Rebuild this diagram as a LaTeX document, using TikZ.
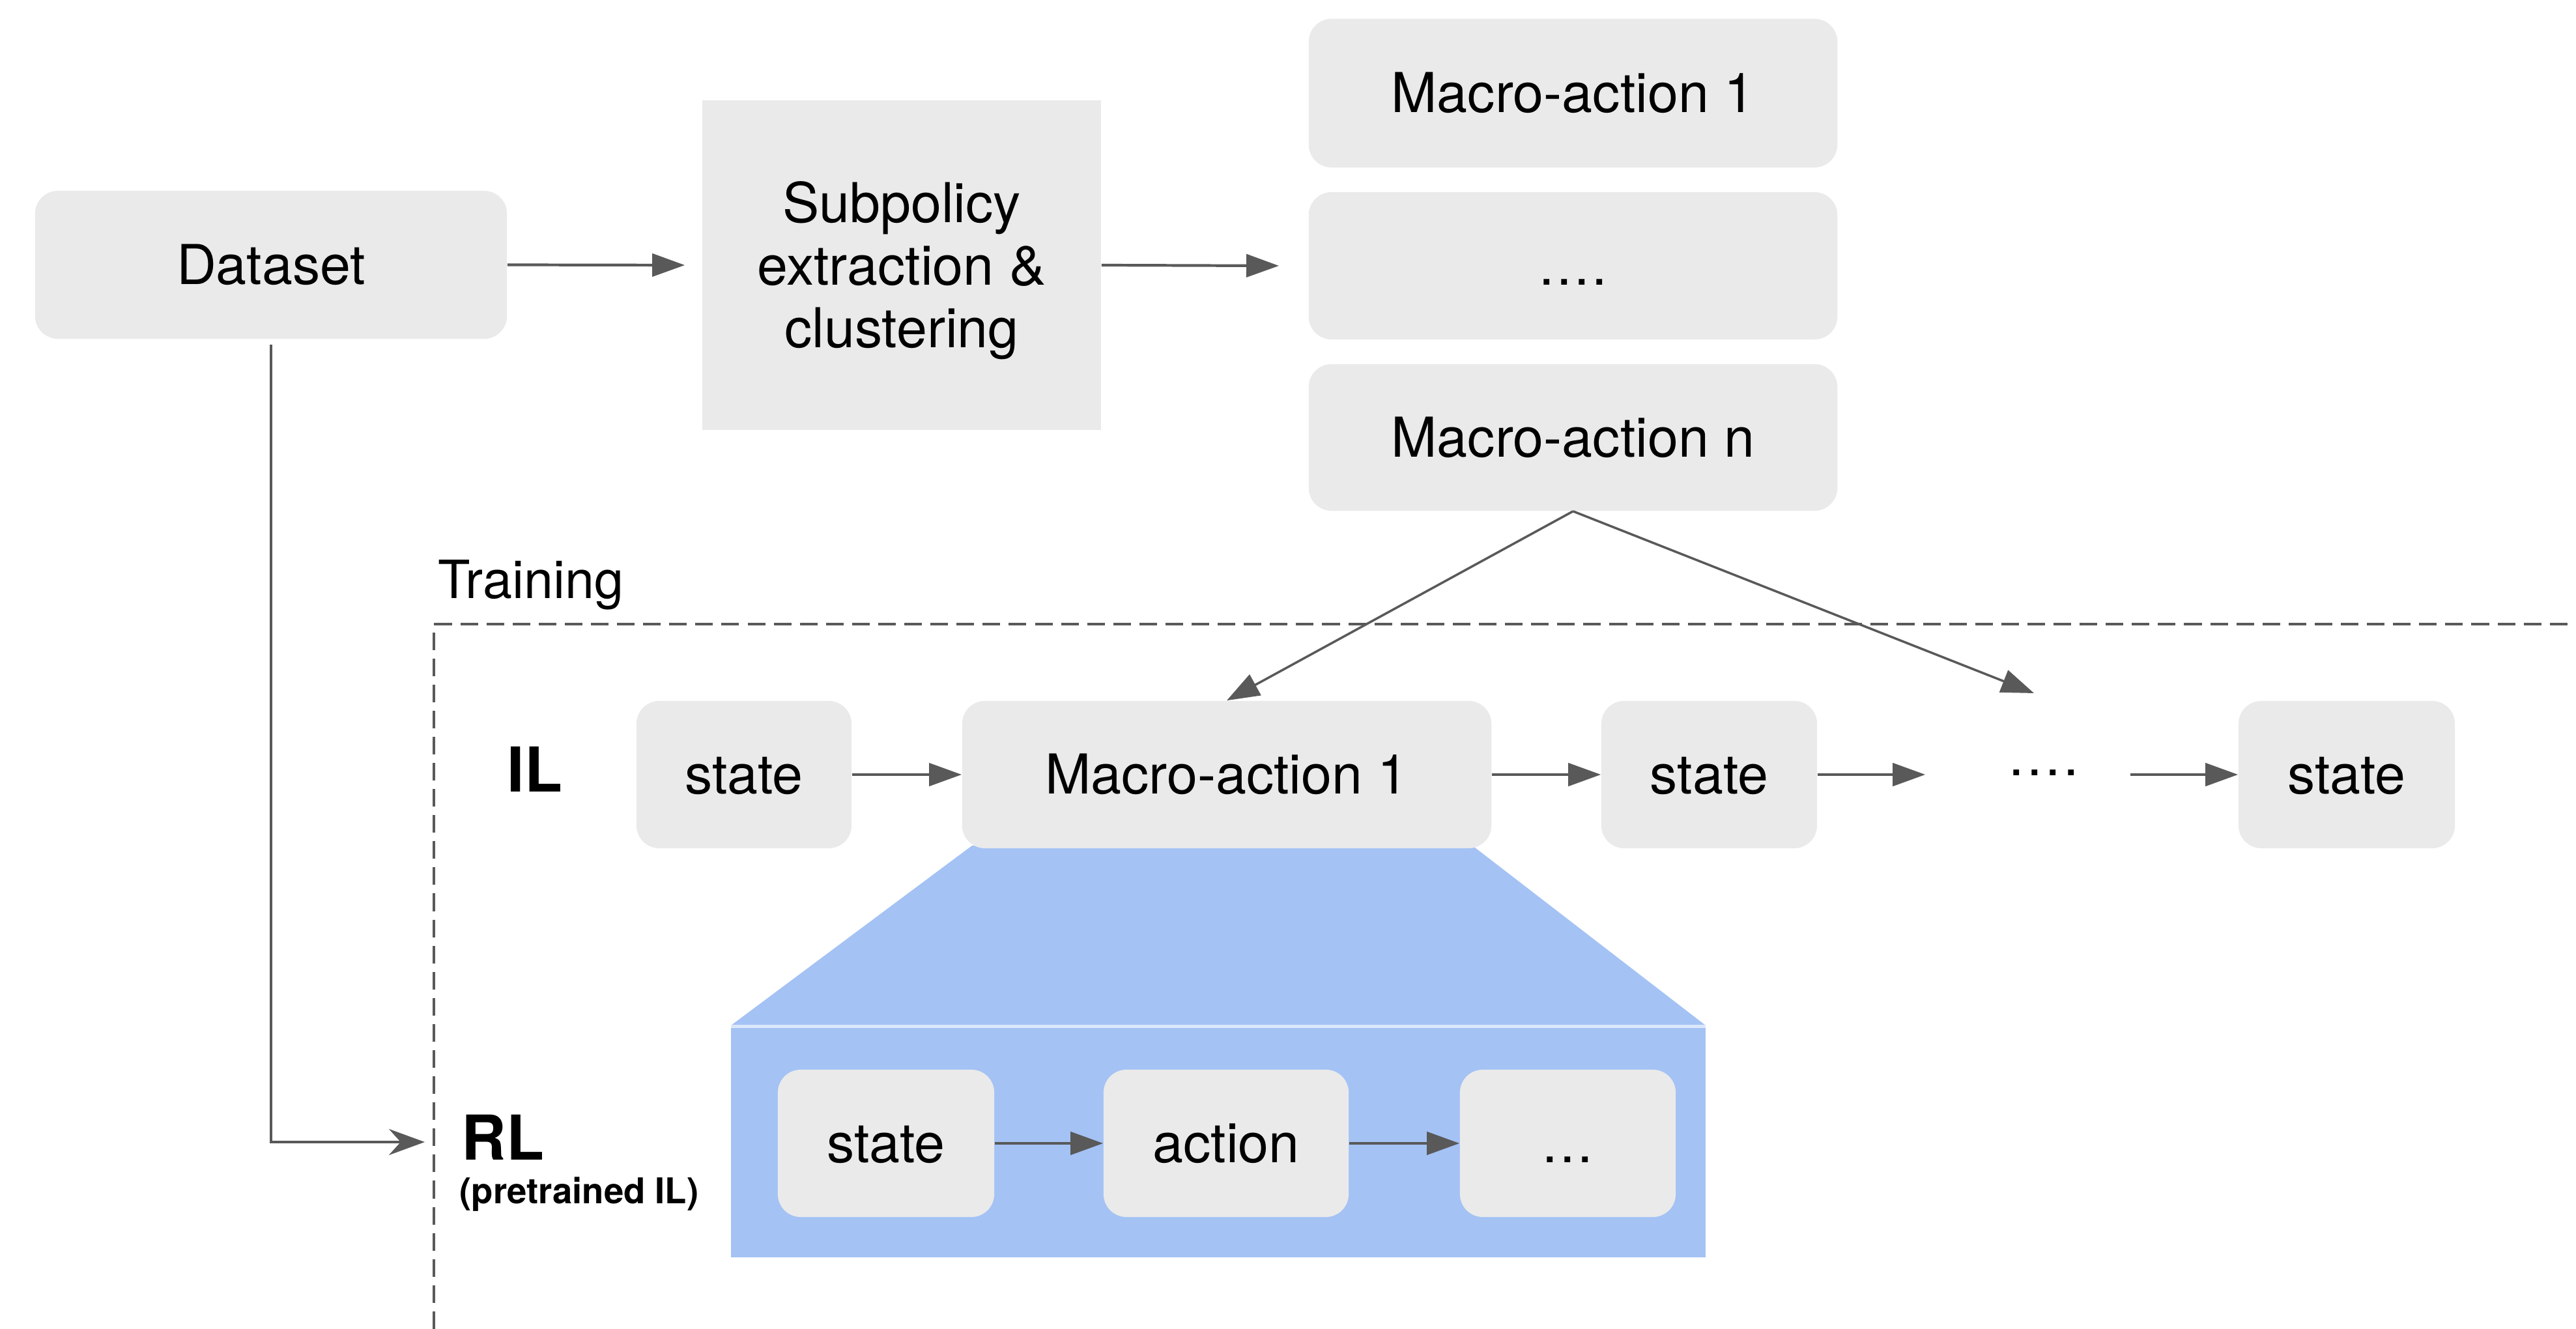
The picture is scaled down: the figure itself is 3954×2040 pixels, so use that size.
\documentclass[tikz,border=0pt]{standalone}
\usepackage{fontspec}
\setmainfont{TeX Gyre Heros}
\usetikzlibrary{arrows.meta}
\definecolor{boxgray}{HTML}{EAEAEA}
\definecolor{linegray}{HTML}{595959}
\definecolor{blueish}{HTML}{A4C2F4}
\definecolor{bluelight}{HTML}{DCE7FB}
\newcommand\mydots[1]{.\kern#1.\kern#1.\kern#1.}
\newcommand\mythreedots[1]{.\kern#1.\kern#1.}
\begin{document}
\begin{tikzpicture}[x=0.01cm,y=-0.01cm,
  mainfont/.style={font=\fontsize{24pt}{27.3pt}\selectfont},
  gbox/.style={fill=boxgray, rounded corners=0.35cm, inner sep=0pt,
    minimum height=2.27cm, text height=17pt, text depth=0pt, mainfont},
  conn/.style={draw=linegray, line width=1.2pt, -{Triangle[length=0.5cm,width=0.35cm]}},
  diag/.style={draw=linegray, line width=1pt, -{Triangle[length=0.5cm,width=0.36cm]}},
  openarr/.style={draw=linegray, line width=1.2pt, -{Stealth[length=0.55cm,width=0.4cm,inset=0.18cm]}},
  trainbox/.style={draw=linegray, line width=1.1pt, dash pattern=on 7.7pt off 3.7pt},
  biglabel/.style={font=\bfseries\fontsize{27pt}{30pt}\selectfont, inner sep=0pt}
]
\useasboundingbox (0,0) rectangle (3954,2040);

% training frame
\draw[trainbox] (666,2040) -- (666,958) -- (3954,958);
\node[anchor=base west, inner sep=0pt, font=\fontsize{23pt}{26pt}\selectfont] (training) at (672,918) {Training};

% blue zoom shapes
\fill[blueish] (1492,1298) -- (2260,1298) -- (2618,1574) -- (1122,1574) -- cycle;
\fill[blueish] (1122,1576) rectangle (2618,1930);
\draw[bluelight, line width=0.05cm] (1122,1575.5) -- (2618,1575.5);

% top row
\node[gbox, minimum width=7.24cm] (dataset) at (416,406.5) {Dataset};
\node[fill=boxgray, inner sep=0pt, minimum width=6.12cm, minimum height=5.06cm,
  align=center, mainfont] (sub) at (1384,407) {\rule{0pt}{22.5pt}Subpolicy\\extraction \&\\clustering};
\node[gbox, minimum width=8.11cm, minimum height=2.28cm] (m1) at (2414.5,143) {Macro-action 1};
\node[gbox, minimum width=8.11cm, minimum height=2.26cm] (mdots) at (2414.5,408) {\mydots{1pt}};
\node[gbox, minimum width=8.11cm, minimum height=2.25cm] (mn) at (2414.5,671.5) {Macro-action n};

\draw[conn] (dataset.east) -- ([xshift=-0.26cm]sub.west);
\draw[conn] (sub.east) -- ([xshift=-0.45cm]mdots.west);

% IL row
\node[biglabel] (il) at (821,1180.5) {IL};
\node[gbox, minimum width=3.30cm, minimum height=2.26cm] (s1) at (1142,1189) {state};
\node[gbox, minimum width=8.12cm, minimum height=2.26cm] (ma1) at (1883,1189) {Macro-action 1};
\node[gbox, minimum width=3.31cm, minimum height=2.26cm] (s2) at (2623.5,1189) {state};
\node[inner sep=0pt, minimum width=3.13cm, mainfont] (ildots) at (3112.5,1186) {\hspace{0.5cm}\mydots{1.3pt}};
\node[gbox, minimum width=3.32cm, minimum height=2.26cm] (s3) at (3602,1189) {state};

\draw[conn] (s1.east) -- (ma1.west);
\draw[conn] (ma1.east) -- (s2.west);
\draw[conn] (s2.east) -- (s2.east -| ildots.west);
\draw[conn] (s3.west -| ildots.east) -- (s3.west);

\coordinate (freeend) at (3122,1064);
\draw[diag] (mn.south) -- (ma1.north);
\draw[diag] (mn.south) -- (freeend);

% RL row
\node[biglabel, anchor=west] (rl) at (708,1746) {RL};
\node[anchor=west, inner sep=0pt, font=\bfseries\fontsize{15.5pt}{17pt}\selectfont] (pre) at (705,1833) {(pretrained IL)};
\node[gbox, minimum width=3.32cm, minimum height=2.26cm] (is) at (1360,1755) {state};
\node[gbox, minimum width=3.76cm, minimum height=2.26cm] (ia) at (1882,1755) {action};
\node[gbox, minimum width=3.31cm, minimum height=2.26cm] (id) at (2406.5,1755) {\mythreedots{1pt}};
\draw[conn] (is.east) -- (ia.west);
\draw[conn] (ia.east) -- (id.west);

\coordinate (rlin) at (652,1753);
\draw[openarr] ([yshift=-0.08cm]dataset.south) |- (rlin);
\end{tikzpicture}
\end{document}
